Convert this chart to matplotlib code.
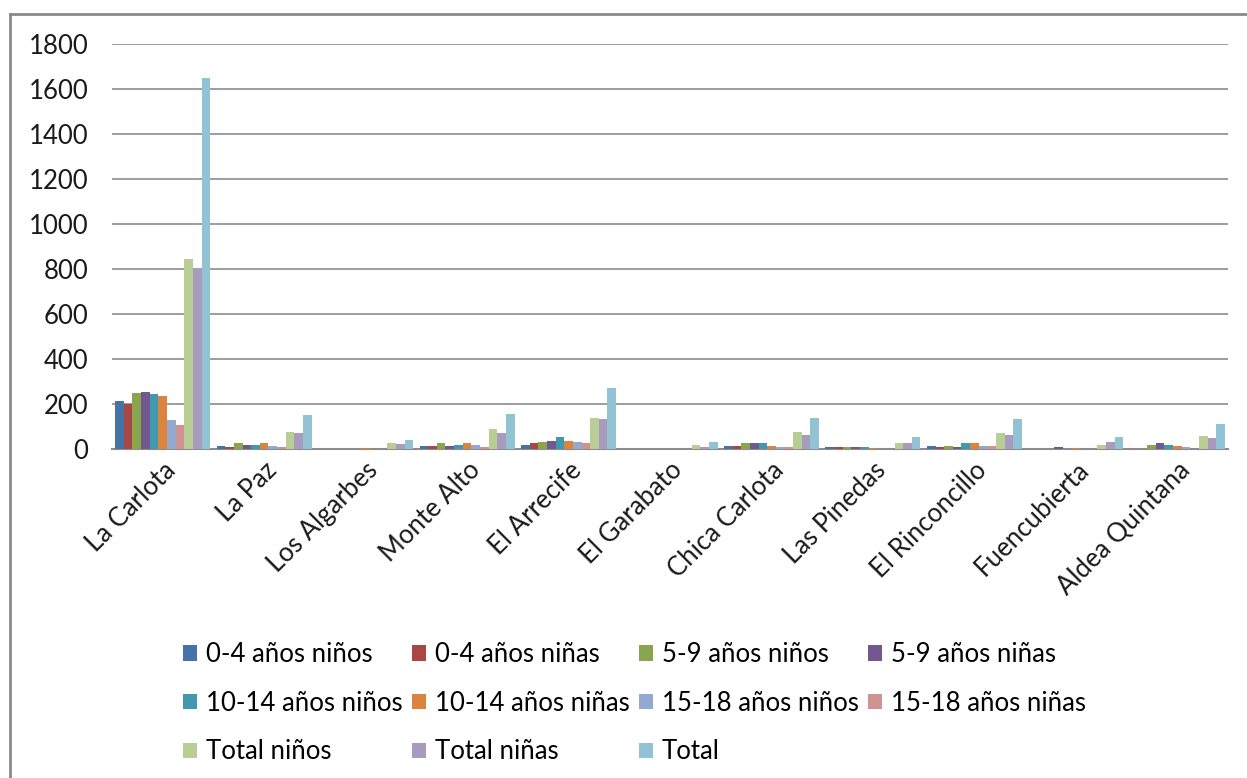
import numpy as np
import matplotlib.pyplot as plt
from matplotlib.lines import Line2D

plt.rcParams['font.family'] = ['Lato', 'DejaVu Sans']

# Datos: población por núcleo, edad y sexo
nucleos = ['La Carlota', 'La Paz', 'Los Algarbes', 'Monte Alto', 'El Arrecife',
           'El Garabato', 'Chica Carlota', 'Las Pinedas', 'El Rinconcillo',
           'Fuencubierta', 'Aldea Quintana']

ninos_0_4 = [215, 12, 0, 12, 18, 0, 12, 7, 12, 0, 0]
ninas_0_4 = [200, 10, 0, 12, 25, 0, 12, 7, 7, 0, 0]
ninos_5_9 = [250, 25, 0, 25, 30, 0, 25, 7, 12, 0, 19]
ninas_5_9 = [255, 18, 0, 12, 36, 0, 25, 7, 7, 7, 27]
ninos_10_14 = [243, 18, 0, 18, 52, 0, 25, 7, 25, 0, 19]
ninas_10_14 = [235, 25, 5, 25, 36, 0, 12, 5, 25, 5, 13]
ninos_15_18 = [130, 12, 0, 18, 30, 0, 7, 0, 12, 0, 7]
ninas_15_18 = [105, 7, 0, 7, 25, 0, 7, 0, 12, 0, 0]
total_ninos = [845, 75, 25, 87, 139, 18, 75, 25, 70, 18, 59]
total_ninas = [803, 70, 20, 70, 132, 10, 60, 25, 60, 30, 47]
total = [1650, 151, 42, 157, 273, 30, 139, 52, 132, 52, 111]

series = [
    ('0-4 años niños', ninos_0_4, '#4572A7'),
    ('0-4 años niñas', ninas_0_4, '#AA4643'),
    ('5-9 años niños', ninos_5_9, '#89A54E'),
    ('5-9 años niñas', ninas_5_9, '#71588F'),
    ('10-14 años niños', ninos_10_14, '#4198AF'),
    ('10-14 años niñas', ninas_10_14, '#DB843D'),
    ('15-18 años niños', ninos_15_18, '#93A9CF'),
    ('15-18 años niñas', ninas_15_18, '#D19392'),
    ('Total niños', total_ninos, '#B9CD96'),
    ('Total niñas', total_ninas, '#A99BBD'),
    ('Total', total, '#91C3D5'),
]

fig = plt.figure(figsize=(12.47, 7.78), dpi=100)
ax = fig.add_axes([0.0898, 0.4229, 0.895, 0.5205])

x = np.arange(len(nucleos))
n = len(series)
ancho = 0.937 / n
barras = []
for i, (nombre, valores, color) in enumerate(series):
    b = ax.bar(x - 0.4685 + ancho * (i + 0.5), valores, ancho, color=color,
               label=nombre, zorder=3)
    barras.append(b)

ax.set_xlim(-0.5, len(nucleos) - 0.5)
ax.set_ylim(0, 1800)
ax.set_yticks(range(0, 1801, 200))
ax.yaxis.grid(True, color='#8c8c8c', linewidth=1.2)
ax.set_axisbelow(True)
for lado in ['top', 'right', 'left']:
    ax.spines[lado].set_visible(False)
ax.spines['bottom'].set_color('#8c8c8c')
ax.spines['bottom'].set_linewidth(1.5)
ax.tick_params(axis='both', length=0, labelsize=18.5, colors='#1a1a1a')
ax.tick_params(axis='y', pad=17)
ax.tick_params(axis='x', pad=6)
ax.set_xticks(x)
ax.set_xticklabels(nucleos, rotation=45, ha='right', rotation_mode='anchor')

# leyenda por filas (4 columnas)
orden = [0, 4, 8, 1, 5, 9, 2, 6, 10, 3, 7]
ax.legend([barras[i] for i in orden], [series[i][0] for i in orden],
          ncol=4, loc='upper left', bbox_to_anchor=(0.043, -0.42),
          frameon=False, fontsize=18.5, handlelength=0.55, handleheight=0.55,
          handletextpad=0.35, columnspacing=0.35, labelspacing=0.92)

# marco del gráfico
fig.add_artist(Line2D([10 / 1247, 10 / 1247], [0, 1 - 14 / 778],
                      color='#8a8a8a', linewidth=2, transform=fig.transFigure))
fig.add_artist(Line2D([10 / 1247, 1], [1 - 14 / 778, 1 - 14 / 778],
                      color='#8a8a8a', linewidth=2, transform=fig.transFigure))

fig.savefig('out.png', dpi=100)
